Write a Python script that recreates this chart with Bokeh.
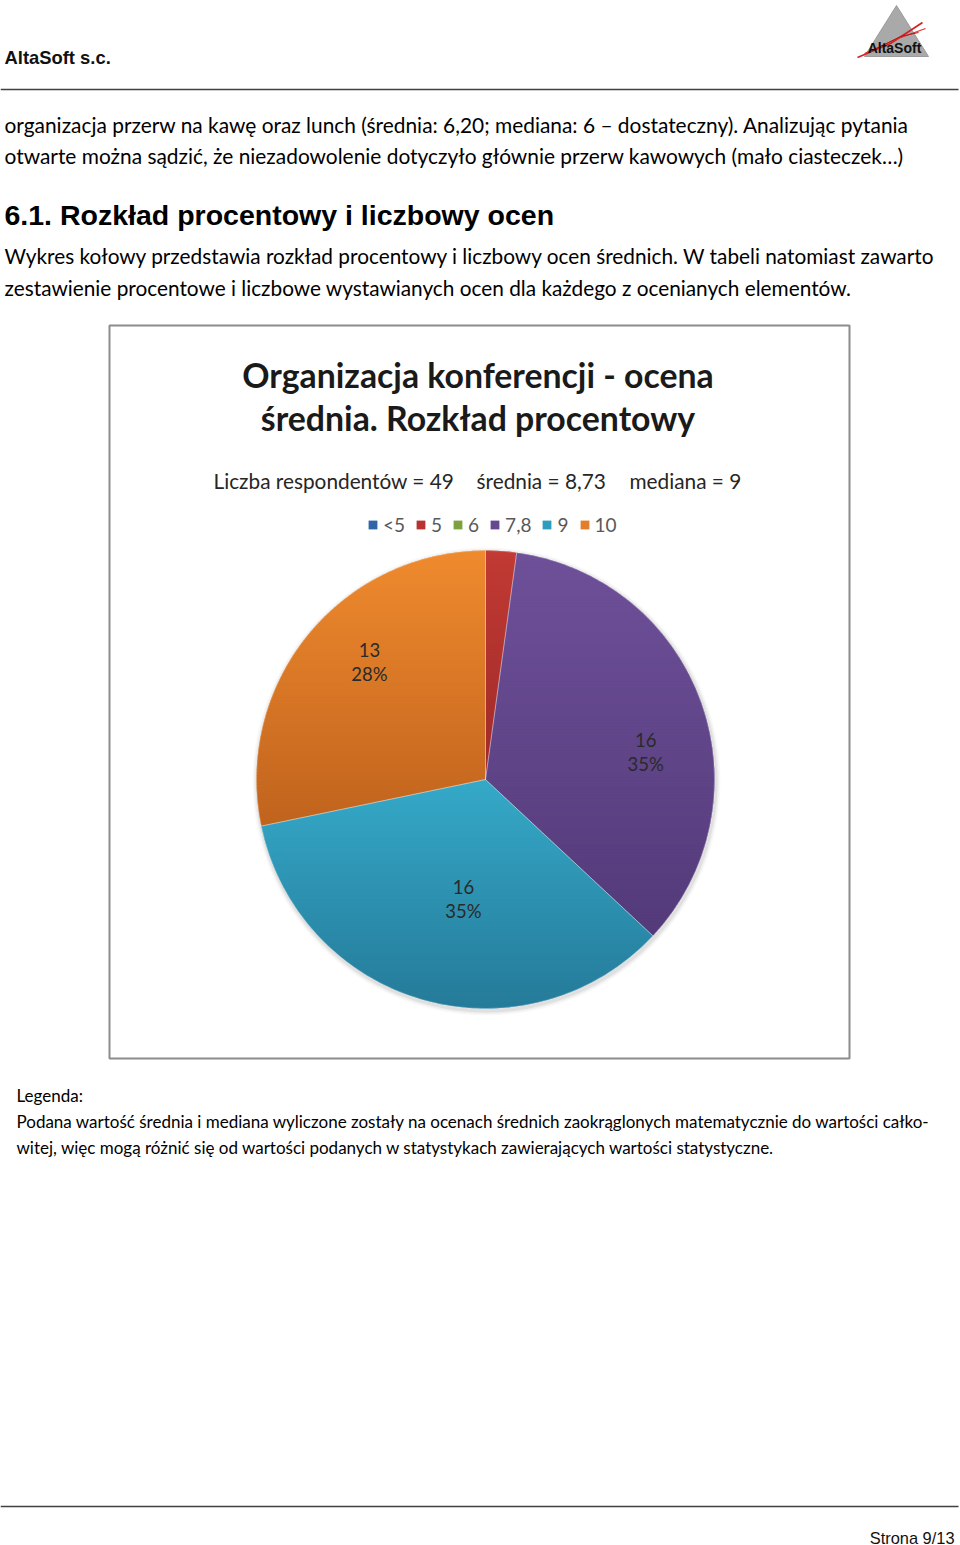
import numpy as np
from bokeh.plotting import figure
from bokeh.models import ColumnDataSource, Range1d, Legend, LegendItem
from bokeh.core.properties import value
from bokeh.embed import file_html
from bokeh.resources import INLINE

# ---------------- data ----------------
categories = ["<5", "5", "6", "7,8", "9", "10"]
counts = [0, 1, 0, 16, 16, 13]
colors = ["#2e66a8", "#b83232", "#7ba23f", "#654890", "#2e9dbd", "#e27d2a"]
respondents = 49
mean_txt = "8,73"
median_txt = "9"

chart_title = ["Organizacja konferencji - ocena", "średnia. Rozkład procentowy"]
subtitle_parts = [f"Liczba respondentów = {respondents}", f"średnia = {mean_txt}", f"mediana = {median_txt}"]

para1 = ["organizacja przerw na kawę oraz lunch (średnia: 6,20; mediana: 6 – dostateczny). Analizując pytania",
         "otwarte można sądzić, że niezadowolenie dotyczyło głównie przerw kawowych (mało ciasteczek…)"]
heading = "6.1. Rozkład procentowy i liczbowy ocen"
para2 = ["Wykres kołowy przedstawia rozkład procentowy i liczbowy ocen średnich. W tabeli natomiast zawarto",
         "zestawienie procentowe i liczbowe wystawianych ocen dla każdego z ocenianych elementów."]
legend_note = ["Legenda:",
               "Podana wartość średnia i mediana wyliczone zostały na ocenach średnich zaokrąglonych matematycznie do wartości całko-",
               "witej, więc mogą różnić się od wartości podanych w statystykach zawierających wartości statystyczne."]

# ---------------- layout / style ----------------
W, H = 960, 1545
def Y(y):
    return H - y

BODY = "Lato"
ARIAL = "Liberation Sans"
# slice gradient (top colour, bottom colour)
grad_top = ["#3a74b8", "#c23a34", "#86ae48", "#6e5099", "#35a9c8", "#ef8a2e"]
grad_bot = ["#24578f", "#9e2a28", "#658a32", "#533a79", "#257a99", "#c0631d"]

p = figure(width=W, height=H, x_range=Range1d(0, W), y_range=Range1d(0, H),
           output_backend="svg", toolbar_location=None, min_border=0)
p.xaxis.visible = False
p.yaxis.visible = False
p.xgrid.grid_line_color = None
p.ygrid.grid_line_color = None
p.outline_line_color = None
p.background_fill_color = "white"
p.border_fill_color = "white"


def txt(x, y, s, size, font=BODY, style="normal", color="black", align="left", baseline="middle", alpha=1.0):
    p.text(x=[x], y=[Y(y)], text=[s], text_font=value(font), text_font_size=f"{size}px",
           text_font_style=style, text_color=color, text_align=align, text_baseline=baseline,
           text_alpha=alpha)

# header
txt(4, 57, "AltaSoft s.c.", 18.4, font=ARIAL, style="bold", color="#111111")
p.line([0, 958], [Y(89), Y(89)], line_color="#404040", line_width=1.5)
# logo
p.patch([864, 896, 928], [Y(56), Y(5), Y(56)], fill_color="#a9a9a9", line_color="#9c9c9c")
p.line([857, 890, 922], [Y(57), Y(43), Y(22)], line_color="#d42020", line_width=1.6)
p.line([864, 895, 925], [Y(53), Y(39), Y(28)], line_color="#e03030", line_width=1.2)
p.line([872, 900, 918], [Y(50), Y(36), Y(32)], line_color="#b01818", line_width=1)
txt(894, 47, "AltaSoft", 14, font=ARIAL, style="bold", color="#111111", align="center")

# body text
for i, s in enumerate(para1):
    txt(4, 124 + 31 * i, s, 20.9)
txt(4, 214, heading, 28.5, font=ARIAL, style="bold")
for i, s in enumerate(para2):
    txt(4, 255 + 32 * i, s, 20.8)

# chart frame
p.quad(left=[109], right=[849], top=[Y(325)], bottom=[Y(1058)], fill_color=None,
       line_color="#8c8c8c", line_width=2)

for i, s in enumerate(chart_title):
    txt(477.5, 374 + 43 * i, s, 33.8, style="bold", color="#1a1a1a", align="center")
for s, x in zip(subtitle_parts, [213, 476, 629]):
    txt(x, 480, s, 20.8, color="#262626")

# pie
cx, cy, R = 485, 779, 229
total = sum(counts)
frac = np.array(counts, dtype=float) / total
cum = np.concatenate([[0], np.cumsum(frac)])
start = np.pi / 2 - cum[:-1] * 2 * np.pi
end = np.pi / 2 - cum[1:] * 2 * np.pi
radius = [R if c > 0 else 0 for c in counts]
src = ColumnDataSource(dict(cat=categories, start=start, end=end, color=colors, r=radius))

# soft shadow
for dr, a in [(5, 0.025), (3.5, 0.04), (2, 0.06)]:
    p.circle(x=[cx + 1], y=[Y(cy) - 2], radius=R + dr, fill_color="#000000", fill_alpha=a, line_color=None)

wr = p.wedge(x=cx, y=Y(cy), radius="r", start_angle="start", end_angle="end", direction="clock",
             fill_color="color", line_color=None, source=src)


def hex2rgb(h):
    return np.array([int(h[i:i + 2], 16) for i in (1, 3, 5)], dtype=float)


def clip(pts, ylim, keep_above):
    out = []
    n = len(pts)
    for k in range(n):
        a, b = pts[k], pts[(k + 1) % n]
        ina = a[1] >= ylim if keep_above else a[1] <= ylim
        inb = b[1] >= ylim if keep_above else b[1] <= ylim
        if ina:
            out.append(a)
        if ina != inb:
            t = (ylim - a[1]) / (b[1] - a[1])
            out.append((a[0] + t * (b[0] - a[0]), ylim))
    return out


bx, by, bc = [], [], []
for i, c in enumerate(counts):
    if c == 0:
        continue
    ang = np.linspace(start[i], end[i], max(8, int(abs(end[i] - start[i]) * 60)))
    poly = [(cx, cy)] + [(cx + R * np.cos(a), cy - R * np.sin(a)) for a in ang]
    ys_ = [q[1] for q in poly]
    y0, y1 = min(ys_), max(ys_)
    ct, cb = hex2rgb(grad_top[i]), hex2rgb(grad_bot[i])
    step = 3.0
    yy = y0
    while yy < y1:
        band = clip(clip(poly, yy, True), min(yy + step + 0.6, y1), False)
        if len(band) >= 3:
            t = (yy + step / 2 - y0) / (y1 - y0)
            col = ct + (cb - ct) * min(max(t, 0), 1)
            bx.append([q[0] for q in band])
            by.append([Y(q[1]) for q in band])
            bc.append("#%02x%02x%02x" % tuple(int(round(v)) for v in col))
        yy += step
p.patches(xs=bx, ys=by, fill_color=bc, line_color=None)

# subtle slice separators
p.wedge(x=cx, y=Y(cy), radius="r", start_angle="start", end_angle="end", direction="clock",
        fill_color=None, line_color="white", line_alpha=0.35, line_width=0.8, source=src)

# data labels
label_r = [0.7, 0.7, 0.7, 0.71, 0.53, 0.72]
label_shift = [0, 0, 0, -9.7, 5.2, -6.1]
for i, c in enumerate(counts):
    if c <= 1:
        continue
    mid = (start[i] + end[i]) / 2 + np.radians(label_shift[i])
    lx = cx + label_r[i] * R * np.cos(mid)
    ly = cy - label_r[i] * R * np.sin(mid)
    pct = f"{round(frac[i] * 100)}%"
    txt(lx, ly - 12, str(c), 18.5, color="#2a2a2a", align="center")
    txt(lx, ly + 12, pct, 18.5, color="#2a2a2a", align="center")

legend = Legend(items=[LegendItem(label=c, renderers=[wr], index=i) for i, c in enumerate(categories)],
                orientation="horizontal", location=(367, H - 536), glyph_width=11, glyph_height=11,
                label_standoff=5, spacing=10, padding=0, margin=0, border_line_color=None,
                background_fill_alpha=0, label_text_font="Lato", label_text_font_size="19px",
                label_text_color="#595959", label_height=18, label_width=0)
p.add_layout(legend)

# note
txt(16, 1095, legend_note[0], 17)
txt(16, 1121, legend_note[1], 17)
txt(16, 1147, legend_note[2], 17)

# footer
p.line([0, 958], [Y(1506), Y(1506)], line_color="#404040", line_width=1.5)
txt(954, 1537, "Strona 9/13", 16.4, font=ARIAL, align="right", color="#111111")

open("out.html", "w").write(file_html(p, INLINE))
